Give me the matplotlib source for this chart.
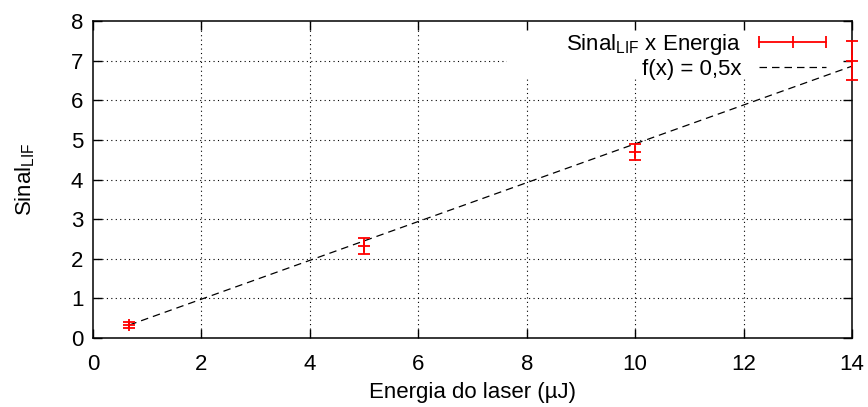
import matplotlib
matplotlib.use('Agg')
import matplotlib.pyplot as plt
from matplotlib.patches import Rectangle
from matplotlib.lines import Line2D
import numpy as np

plt.rcParams['font.family'] = ['Liberation Sans', 'DejaVu Sans']
plt.rcParams['mathtext.fontset'] = 'custom'
plt.rcParams['mathtext.rm'] = 'Liberation Sans'
plt.rcParams['mathtext.it'] = 'Liberation Sans:italic'

# measurements: laser energy [uJ] vs LIF signal
energia = [0.67, 5.0, 10.0, 14.0]
sinal = [0.32, 2.33, 4.7, 7.0]
erro = [0.08, 0.2, 0.2, 0.5]

# linear model drawn over the measured range
slope = 0.49
xFit = np.array([energia[0], energia[-1]])

xTicks = [0, 2, 4, 6, 8, 10, 12, 14]
yTicks = [0, 1, 2, 3, 4, 5, 6, 7, 8]
fs = 16

fig = plt.figure(figsize=(8.68, 4.07), dpi=100)
ax = fig.add_axes([93/868, 1-338/407, 759/868, 317/407])
ax.set_xlim(0, 14)
ax.set_ylim(0, 8)
ax.set_xticks(xTicks)
ax.set_yticks(yTicks)
ax.tick_params(direction='in', length=6.5, width=1.0, top=True, right=True,
               labelsize=fs, pad=7)
ax.tick_params(axis='x', pad=11.5)
for s in ax.spines.values():
  s.set_linewidth(1.1)

# dotted grid, drawn by hand so the key box can cover it but not the ticks
gridStyle = dict(color='k', lw=0.8, ls=(0, (1, 3)), zorder=0.5)
for xv in xTicks[1:-1]:
  ax.axvline(xv, **gridStyle)
for yv in yTicks[1:-1]:
  ax.axhline(yv, **gridStyle)
ax.add_patch(Rectangle((0.545, 0.823), 0.455, 0.177, transform=ax.transAxes,
                       facecolor='white', edgecolor='none', zorder=1))

ax.errorbar(energia, sinal, yerr=erro, fmt='+', color='red', ms=8, mew=1.3,
            elinewidth=1.3, capsize=4.5, capthick=1.3, zorder=3, clip_on=False)
ax.plot(xFit, slope*xFit, color='k', lw=0.9, ls=(0, (6, 4)), zorder=2)

ax.set_xlabel('Energia do laser (µJ)', fontsize=fs, labelpad=5)
ax.set_ylabel('Sinal$_{\\mathrm{LIF}}$', fontsize=fs, labelpad=24)

hErr = Line2D([0, 1, 2], [0, 0, 0], color='red', lw=1.3, marker='|', ms=9, mew=1.3)
hFit = Line2D([0, 1], [0, 0], color='k', lw=0.9, ls=(0, (6, 4)))
ax.legend([hErr, hFit], ['Sinal$_{\\mathrm{LIF}}$ x Energia', 'f(x) = 0,5x'],
          loc='upper right', bbox_to_anchor=(0.995, 1.015), frameon=False,
          markerfirst=False, numpoints=3, handlelength=3.6, handletextpad=0.5,
          fontsize=fs, labelspacing=0.1, borderpad=0.2)

fig.savefig('out.png', dpi=100)
